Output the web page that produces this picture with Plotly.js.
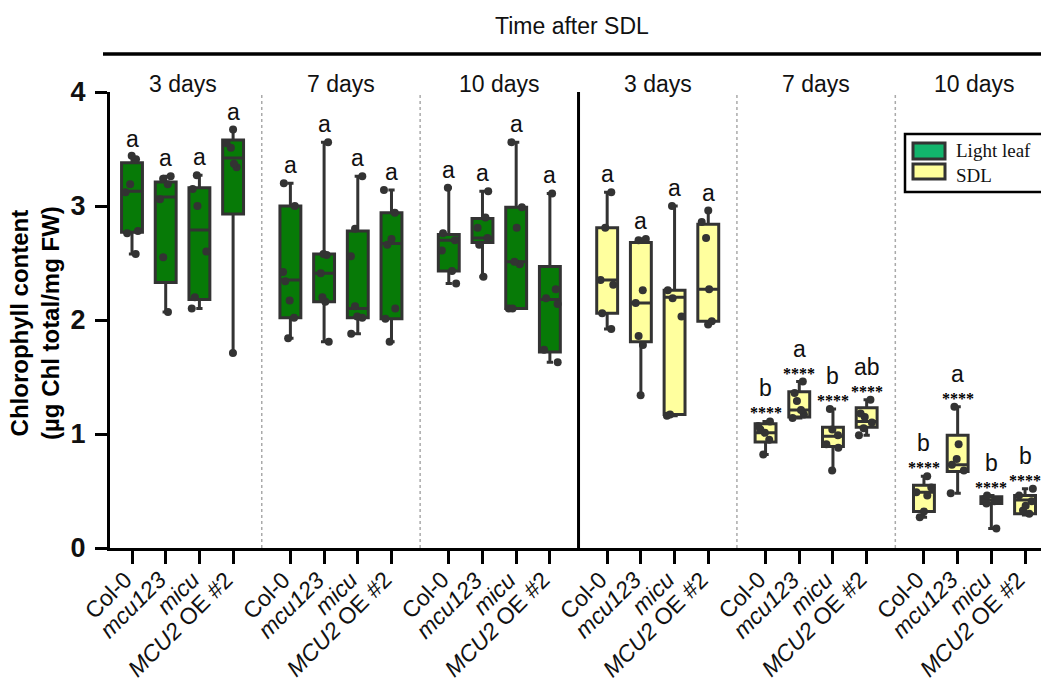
<!DOCTYPE html>
<html>
<head>
<meta charset="utf-8">
<script src="https://cdn.plot.ly/plotly-3.0.1.min.js"></script>
<style>html,body{margin:0;padding:0;background:#fff;}#chart{width:1041px;height:684px;}</style>
</head>
<body>
<div id="chart"></div>
<script>
// ---------- data ----------
const groupLabels = ['3 days', '7 days', '10 days', '3 days', '7 days', '10 days'];
const genotypes = ['Col-0', '<i>mcu123</i>', '<i>micu</i>', '<i>MCU2</i> OE #2'];

// Light leaf (groups 1-3), order: Col-0, mcu123, micu, MCU2 OE #2 per group
const lightHi  = [3.43, 3.26, 3.27, 3.67,  3.20, 3.56, 3.26, 3.14,  3.16, 3.13, 3.56, 3.11];
const lightQ3  = [3.38, 3.21, 3.16, 3.58,  3.00, 2.58, 2.78, 2.94,  2.75, 2.89, 2.99, 2.47];
const lightMed = [3.13, 3.08, 2.79, 3.42,  2.35, 2.41, 2.10, 2.67,  2.70, 2.72, 2.51, 2.18];
const lightQ1  = [2.77, 2.33, 2.18, 2.93,  2.02, 2.16, 2.02, 2.01,  2.43, 2.68, 2.10, 1.72];
const lightLo  = [2.58, 2.07, 2.10, 1.71,  1.84, 1.81, 1.88, 1.81,  2.32, 2.38, 2.10, 1.63];
const lightPts = [
  [3.44, 3.41, 3.19, 3.12, 2.78, 2.76, 2.58],
  [3.26, 3.24, 3.19, 3.06, 2.55, 2.07],
  [3.27, 3.15, 3.00, 2.60, 2.20, 2.10],
  [3.67, 3.55, 3.51, 3.37, 3.34, 1.71],
  [3.20, 3.00, 2.42, 2.34, 2.17, 2.02, 1.84],
  [3.56, 2.58, 2.57, 2.41, 2.20, 2.16, 1.81],
  [3.26, 2.80, 2.56, 2.12, 2.03, 2.02, 1.88],
  [3.14, 2.94, 2.71, 2.66, 2.10, 2.01, 1.81],
  [3.16, 2.76, 2.70, 2.61, 2.43, 2.32],
  [3.13, 2.90, 2.81, 2.72, 2.66, 2.38],
  [3.56, 2.99, 2.81, 2.51, 2.49, 2.10, 2.10],
  [3.11, 2.27, 2.19, 2.14, 1.74, 1.63]
];
const lightLetters = ['a','a','a','a', 'a','a','a','a', 'a','a','a','a'];
const lightStars   = ['','','','', '','','','', '','','',''];

// SDL (groups 4-6)
const sdlHi  = [3.12, 2.71, 3.00, 2.96,  1.11, 1.46, 1.22, 1.30,  0.63, 1.24, 0.46, 0.52];
const sdlQ3  = [2.81, 2.68, 2.26, 2.84,  1.09, 1.37, 1.06, 1.23,  0.55, 0.99, 0.45, 0.46];
const sdlMed = [2.35, 2.15, 2.20, 2.27,  1.01, 1.21, 0.98, 1.11,  0.49, 0.73, 0.42, 0.42];
const sdlQ1  = [2.06, 1.81, 1.17, 1.99,  0.93, 1.15, 0.89, 1.06,  0.32, 0.67, 0.39, 0.30];
const sdlLo  = [1.92, 1.34, 1.16, 1.96,  0.82, 1.14, 0.68, 0.99,  0.27, 0.48, 0.17, 0.29];
const sdlPts = [
  [3.12, 2.81, 2.35, 2.31, 2.06, 1.92],
  [2.71, 2.70, 2.26, 2.15, 1.86, 1.78, 1.34],
  [3.00, 2.26, 2.19, 2.03, 1.17, 1.16],
  [2.96, 2.86, 2.72, 2.27, 1.99, 1.96],
  [1.11, 1.07, 1.04, 1.01, 0.95, 0.82],
  [1.46, 1.36, 1.29, 1.21, 1.17, 1.14],
  [1.22, 1.04, 0.99, 0.91, 0.88, 0.68],
  [1.30, 1.18, 1.15, 1.10, 1.05, 0.99],
  [0.63, 0.53, 0.49, 0.46, 0.32, 0.27],
  [1.24, 0.91, 0.78, 0.73, 0.68, 0.48],
  [0.46, 0.43, 0.42, 0.41, 0.39, 0.17],
  [0.52, 0.46, 0.41, 0.37, 0.33, 0.30]
];
const sdlLetters = ['a','a','a','a', 'b','a','b','ab', 'b','a','b','b'];
const sdlStars   = ['','','','', '****','****','****','****', '****','****','****','****'];

const yTicks = [0, 1, 2, 3, 4];
const topTitle = 'Time after SDL';
const yTitle = 'Chlorophyll content<br>(µg Chl total/mg FW)';
const legendNames = ['Light leaf', 'SDL'];

// ---------- layout helpers ----------
const GROUP_STEP = 4.7;
const pos = (g, i) => g * GROUP_STEP + i;
const L = 110, T = 92, W = 931, H = 456;
const fx = p => (p - L) / W;
const fy = p => (T + H - p) / H;

const lightX = [], sdlX = [], tickVals = [], tickText = [];
for (let g = 0; g < 6; g++) {
  for (let i = 0; i < 4; i++) {
    tickVals.push(pos(g, i));
    tickText.push(genotypes[i]);
    if (g < 3) lightX.push(pos(g, i)); else sdlX.push(pos(g, i));
  }
}

const GREEN = '#077a07', YELLOW = '#ffff9e', EDGE = '#333333';

function boxTrace(x, q1, med, q3, lo, hi, pts, fill, name) {
  return {
    type: 'box', name: name, x: x, q1: q1, median: med, q3: q3,
    lowerfence: lo, upperfence: hi, y: pts,
    boxpoints: 'all', jitter: 0.75, pointpos: 0,
    fillcolor: fill, width: 0.62, whiskerwidth: 0.3,
    line: {color: EDGE, width: 3},
    marker: {color: EDGE, size: 8},
    showlegend: false, hoverinfo: 'y'
  };
}

const data = [
  boxTrace(lightX, lightQ1, lightMed, lightQ3, lightLo, lightHi, lightPts, GREEN, legendNames[0]),
  boxTrace(sdlX, sdlQ1, sdlMed, sdlQ3, sdlLo, sdlHi, sdlPts, YELLOW, legendNames[1])
];

const annotations = [];
function addMarks(xs, hi, letters, stars) {
  xs.forEach((x, k) => {
    const hasStar = stars[k] !== '';
    if (hasStar) {
      annotations.push({x: x, y: hi[k], xref: 'x', yref: 'y', text: stars[k], showarrow: false,
        yanchor: 'bottom', yshift: -2, font: {family: 'Liberation Serif', size: 16, color: '#000', weight: 'bold'}});
    }
    annotations.push({x: x, y: hi[k], xref: 'x', yref: 'y', text: letters[k], showarrow: false,
      yanchor: 'bottom', yshift: hasStar ? 18 : 3, font: {family: 'Liberation Sans', size: 23, color: '#111'}});
  });
}
addMarks(lightX, lightHi, lightLetters, lightStars);
addMarks(sdlX, sdlHi, sdlLetters, sdlStars);

// category tick labels (rotated), end of text at the tick
tickVals.forEach((x, k) => {
  annotations.push({x: x, y: fy(564), xref: 'x', yref: 'paper', text: tickText[k], textangle: -45,
    showarrow: false, xanchor: 'right', yanchor: 'top', xshift: 8,
    font: {family: 'Liberation Sans', size: 23, color: '#111'}});
});

groupLabels.forEach((t, g) => {
  annotations.push({x: pos(g, 1.5), y: 1, xref: 'x', yref: 'paper', text: t, showarrow: false,
    yanchor: 'bottom', yshift: -7, font: {family: 'Liberation Sans', size: 23, color: '#111'}});
});
annotations.push({x: (fx(103) + 1) / 2, y: fy(41), xref: 'paper', yref: 'paper', text: topTitle,
  showarrow: false, yanchor: 'bottom', font: {family: 'Liberation Sans', size: 23, color: '#111'}});
annotations.push({x: fx(35), y: fy(323), xref: 'paper', yref: 'paper', text: yTitle, textangle: -90,
  showarrow: false, xanchor: 'center', yanchor: 'middle',
  font: {family: 'Liberation Sans', size: 24, color: '#000', weight: 'bold'}});
// legend text (single block)
annotations.push({x: fx(954), y: fy(163), xref: 'paper', yref: 'paper', text: legendNames.join('<br>'),
  showarrow: false, align: 'left', xanchor: 'left', yanchor: 'middle',
  font: {family: 'Liberation Serif', size: 19, color: '#111'}});

const shapes = [];
// separators
[0, 1, 3, 4].forEach(g => {
  const xm = (pos(g, 3) + pos(g + 1, 0)) / 2;
  shapes.push({type: 'line', xref: 'x', yref: 'y', x0: xm, x1: xm, y0: 0, y1: 4,
    line: {color: '#aaaaaa', width: 1.5, dash: 'dot'}, layer: 'below'});
});
{
  const xm = (pos(2, 3) + pos(3, 0)) / 2;
  shapes.push({type: 'line', xref: 'x', yref: 'y', x0: xm, x1: xm, y0: 0, y1: 4,
    line: {color: '#000', width: 3}});
}
// top bar
shapes.push({type: 'line', xref: 'paper', yref: 'paper', x0: fx(103), x1: fx(1041), y0: fy(54), y1: fy(54),
  line: {color: '#000', width: 3.5}});
// legend
shapes.push({type: 'rect', xref: 'paper', yref: 'paper', x0: fx(905), x1: fx(1060), y0: fy(134), y1: fy(192),
  line: {color: '#000', width: 2.5}, fillcolor: 'rgba(255,255,255,0)'});
shapes.push({type: 'rect', xref: 'paper', yref: 'paper', x0: fx(913), x1: fx(945), y0: fy(143), y1: fy(159),
  line: {color: EDGE, width: 3}, fillcolor: '#12b46c'});
shapes.push({type: 'rect', xref: 'paper', yref: 'paper', x0: fx(913), x1: fx(945), y0: fy(164), y1: fy(179),
  line: {color: EDGE, width: 3}, fillcolor: '#ffff9a'});

const layout = {
  width: 1041, height: 684,
  margin: {l: L, r: 1041 - L - W, t: T, b: 684 - T - H, pad: 0},
  paper_bgcolor: '#fff', plot_bgcolor: '#fff',
  showlegend: false,
  xaxis: {
    range: [pos(0, 0) - 22 / 33.7, pos(0, 0) - 22 / 33.7 + W / 33.7],
    tickmode: 'array', tickvals: tickVals, showticklabels: false,
    ticks: 'outside', ticklen: 13, tickwidth: 3, tickcolor: '#000',
    showline: true, linewidth: 3, linecolor: '#000', showgrid: false, zeroline: false
  },
  yaxis: {
    range: [0, 4], tickmode: 'array', tickvals: yTicks,
    ticks: 'outside', ticklen: 12, tickwidth: 3, tickcolor: '#000',
    showline: true, linewidth: 3, linecolor: '#000', showgrid: false, zeroline: false,
    ticklabelstandoff: 4,
    tickfont: {family: 'Liberation Sans', size: 27, color: '#111', weight: 'bold'}
  },
  annotations: annotations,
  shapes: shapes
};

Plotly.newPlot('chart', data, layout, {displayModeBar: false, staticPlot: true});
</script>
</body>
</html>
